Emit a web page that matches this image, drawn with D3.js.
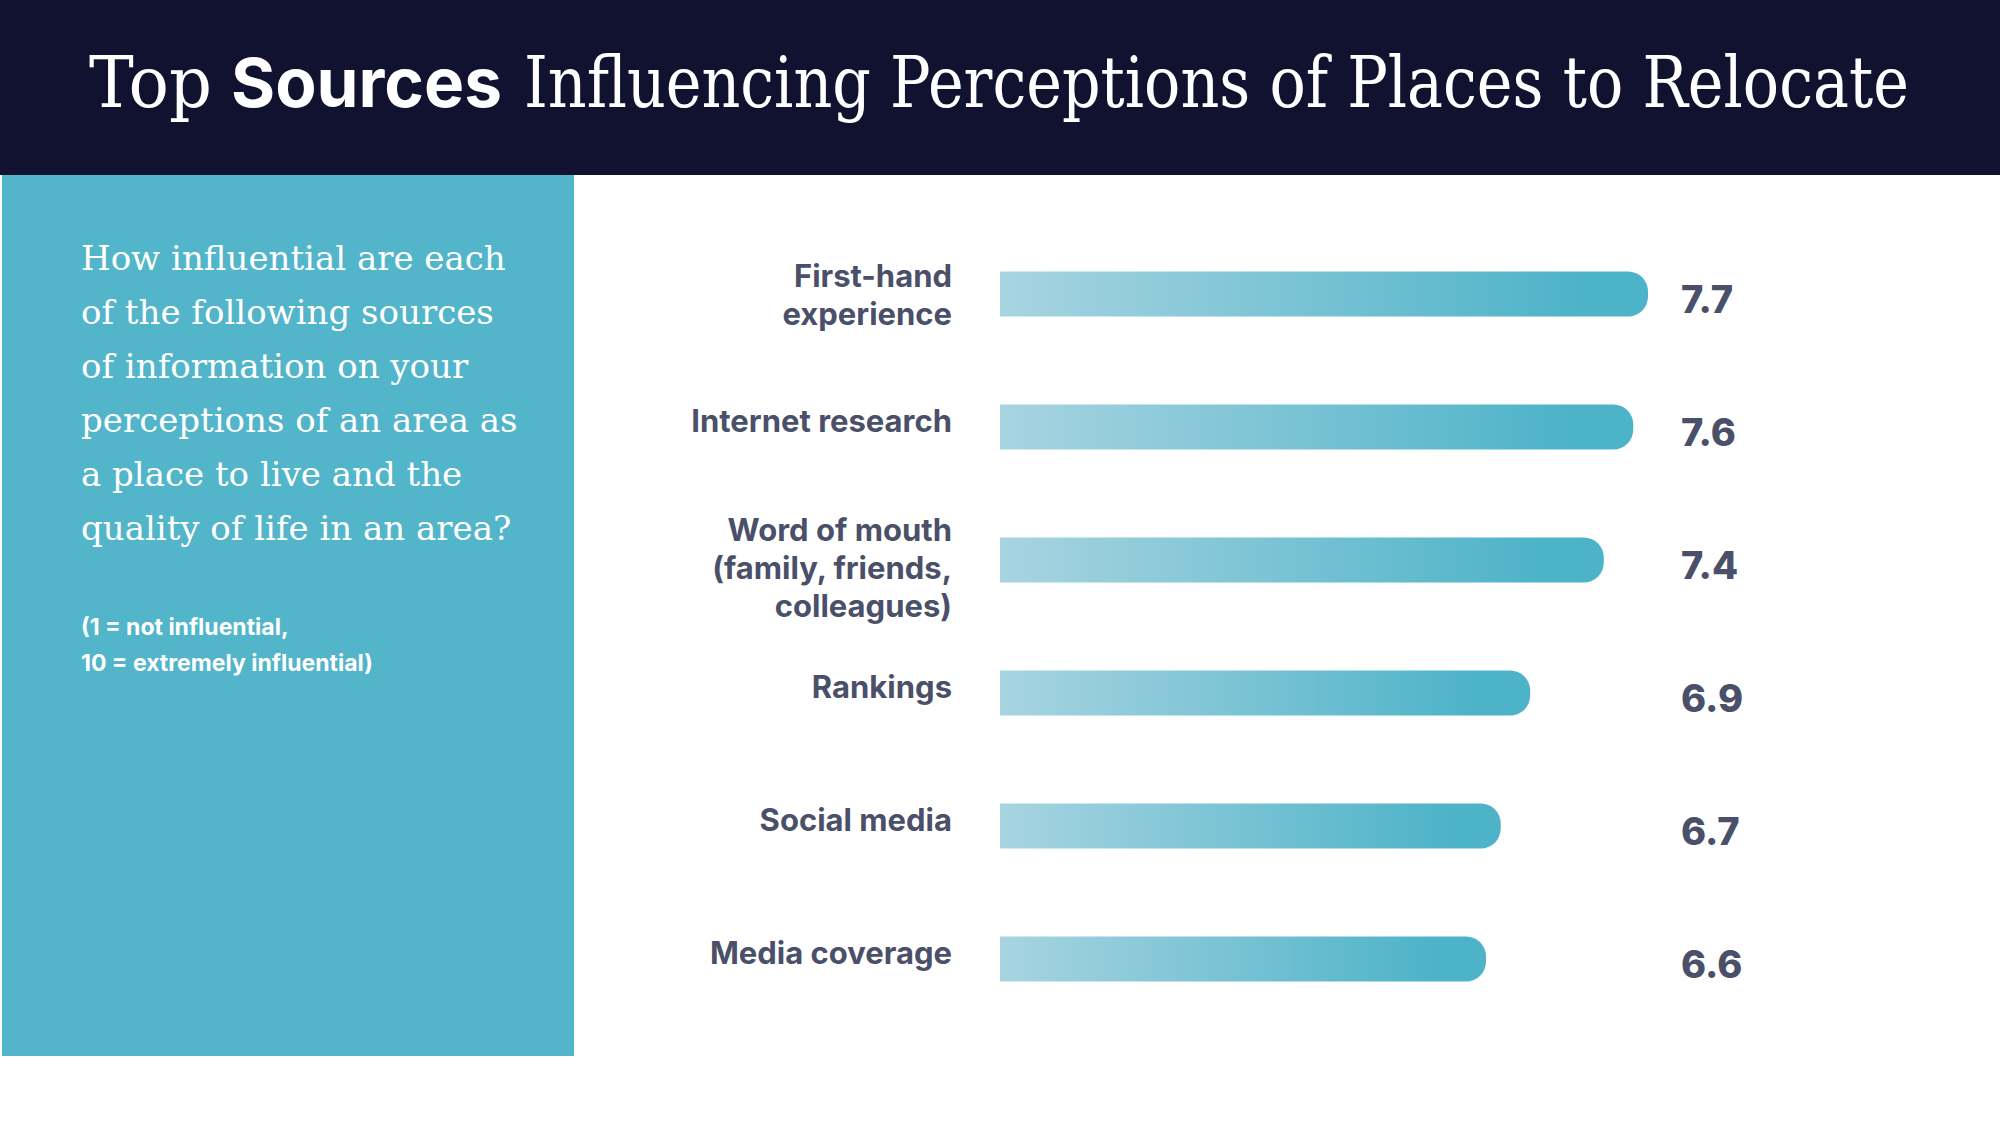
<!DOCTYPE html>
<html>
<head>
<meta charset="utf-8">
<script src="https://cdn.jsdelivr.net/npm/d3@7"></script>
<style>
  body { margin: 0; background: #ffffff; }
  svg { display: block; }
</style>
</head>
<body>
<script>
// chart values
const categories = [
  ["First-hand", "experience"],
  ["Internet research"],
  ["Word of mouth", "(family, friends,", "colleagues)"],
  ["Rankings"],
  ["Social media"],
  ["Media coverage"]
];
const scores = [7.7, 7.6, 7.4, 6.9, 6.7, 6.6];
const valueLabels = ["7.7", "7.6", "7.4", "6.9", "6.7", "6.6"];

const questionLines = [
  "How influential are each",
  "of the following sources",
  "of information on your",
  "perceptions of an area as",
  "a place to live and the",
  "quality of life in an area?"
];
const scaleNote = ["(1 = not influential,", "10 = extremely influential)"];

const width = 2000;
const height = 1125;

const serif = "'DejaVu Serif', 'Liberation Serif', serif";
const sans = "Inter, 'Open Sans', Roboto, sans-serif";
const ink = "#4a5069";

const svg = d3.select("body")
  .append("svg")
  .attr("width", width)
  .attr("height", height);

svg.append("rect")
  .attr("width", width)
  .attr("height", height)
  .attr("fill", "#ffffff");

// header band + title (three pieces: serif / bold sans / serif)
svg.append("rect")
  .attr("width", width)
  .attr("height", 175)
  .attr("fill", "#11122f");

const titleParts = [
  { text: "Top", x: 89, w: 123, font: serif, weight: 400 },
  { text: "Sources", x: 231, w: 271, font: sans, weight: 700 },
  { text: "Influencing Perceptions of Places to Relocate", x: 524, w: 1385, font: serif, weight: 400 }
];

svg.append("g")
  .selectAll("text")
  .data(titleParts)
  .enter()
  .append("text")
  .attr("x", 0)
  .attr("y", 0)
  .style("font-family", d => d.font)
  .style("font-weight", d => d.weight)
  .style("font-size", d => d.weight === 700 ? "68px" : "71px")
  .style("fill", "#ffffff")
  .text(d => d.text)
  .each(function(d) {
    // squeeze each piece sideways to its width in the picture
    const sx = d.w / this.getComputedTextLength();
    d3.select(this).attr("transform", `translate(${d.x},107) scale(${sx},1)`);
  });

// left question panel
svg.append("rect")
  .attr("x", 2)
  .attr("y", 175)
  .attr("width", 572)
  .attr("height", 881)
  .attr("fill", "#52b5c9");

svg.append("g")
  .selectAll("text")
  .data(questionLines)
  .enter()
  .append("text")
  .attr("x", 81)
  .attr("y", (d, i) => 270 + i * 54)
  .style("font-family", serif)
  .style("font-size", "34px")
  .style("fill", "#ffffff")
  .text(d => d);

svg.append("g")
  .selectAll("text")
  .data(scaleNote)
  .enter()
  .append("text")
  .attr("x", 81)
  .attr("y", (d, i) => 635 + i * 36)
  .style("font-family", sans)
  .style("font-weight", 700)
  .style("font-size", "23px")
  .style("fill", "#ffffff")
  .text(d => d);

// bars
const barLeft = 1000;
const barH = 45;
const radius = 20;

const x = d3.scaleLinear()
  .domain([3.3, 7.7])
  .range([0, 648]);

const y = d3.scalePoint()
  .domain(d3.range(scores.length))
  .range([298, 963]);

const grad = svg.append("defs")
  .append("linearGradient")
  .attr("id", "barFill")
  .attr("x1", "0%").attr("x2", "100%")
  .attr("y1", "0%").attr("y2", "0%");
grad.append("stop").attr("offset", "0%").attr("stop-color", "#a8d4e1");
grad.append("stop").attr("offset", "90%").attr("stop-color", "#4db3c8");
grad.append("stop").attr("offset", "100%").attr("stop-color", "#4db3c8");

// square left end, rounded right end
function barPath(len, cy) {
  const x0 = barLeft, x1 = barLeft + len;
  const y0 = cy - barH / 2, y1 = cy + barH / 2;
  return `M${x0},${y0}H${x1 - radius}A${radius},${radius} 0 0 1 ${x1},${y0 + radius}` +
    `V${y1 - radius}A${radius},${radius} 0 0 1 ${x1 - radius},${y1}H${x0}Z`;
}

const rows = svg.append("g")
  .selectAll("g")
  .data(scores)
  .enter()
  .append("g");

rows.append("path")
  .attr("d", (d, i) => barPath(x(d), y(i) - 4))
  .attr("fill", "url(#barFill)");

// category labels, right aligned before the bars
rows.append("text")
  .attr("text-anchor", "end")
  .style("font-family", sans)
  .style("font-weight", 700)
  .style("font-size", "31px")
  .style("fill", ink)
  .each(function(d, i) {
    const lines = categories[i];
    const first = y(i) - 4 + 5 - (lines.length - 1) * 12;
    d3.select(this).selectAll("tspan")
      .data(lines)
      .enter()
      .append("tspan")
      .attr("x", 952)
      .attr("y", (l, j) => first + j * 38)
      .text(l => l);
  });

// value labels
rows.append("text")
  .attr("x", 1681)
  .attr("y", (d, i) => y(i) + 15)
  .style("font-family", sans)
  .style("font-weight", 800)
  .style("font-size", "38px")
  .style("fill", ink)
  .text((d, i) => valueLabels[i]);
</script>
</body>
</html>
